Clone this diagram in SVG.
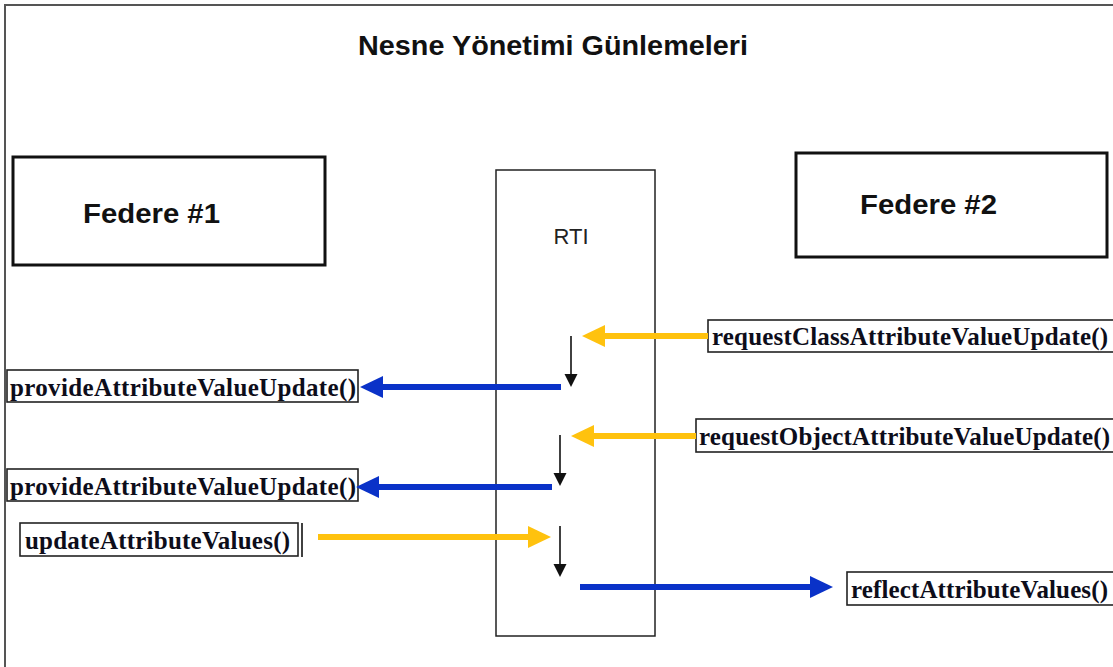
<svg xmlns="http://www.w3.org/2000/svg" width="1113" height="667" viewBox="0 0 1113 667">
  <style>
    .frame { fill: none; stroke: #555; stroke-width: 2; }
    .fed { fill: #fff; stroke: #111; stroke-width: 3; }
    .rti { fill: none; stroke: #222; stroke-width: 1.5; }
    .lbl { fill: #fff; stroke: #222; stroke-width: 1.6; }
    .big { font-family: "Liberation Sans", Arial, sans-serif; font-weight: bold; font-size: 28px; fill: #111; }
    .rtitxt { font-family: "Liberation Sans", Arial, sans-serif; font-size: 22px; fill: #222; }
    .call { font-family: "Liberation Serif", "Times New Roman", serif; font-weight: bold; font-size: 25px; fill: #0d0d1a; }
    .req { stroke: #ffc20e; stroke-width: 6; fill: none; marker-end: url(#headY); }
    .rsp { stroke: #0a32c8; stroke-width: 6; fill: none; marker-end: url(#headB); }
    .step { stroke: #111; stroke-width: 1.6; fill: none; marker-end: url(#headK); }
  </style>
  <defs>
    <marker id="headY" markerUnits="userSpaceOnUse" markerWidth="24" markerHeight="24" refX="0" refY="11" orient="auto">
      <path d="M0,0 L23,11 L0,22 z" fill="#ffc20e"/>
    </marker>
    <marker id="headB" markerUnits="userSpaceOnUse" markerWidth="24" markerHeight="24" refX="0" refY="11" orient="auto">
      <path d="M0,0 L23,11 L0,22 z" fill="#0a32c8"/>
    </marker>
    <marker id="headK" markerUnits="userSpaceOnUse" markerWidth="14" markerHeight="14" refX="0" refY="6.5" orient="auto">
      <path d="M0,0 L13,6.5 L0,13 z" fill="#111"/>
    </marker>
  </defs>

  <rect width="1113" height="667" fill="#fff"/>
  <!-- page frame -->
  <path class="frame" d="M5,667 L5,5 L1113,5"/>

  <text class="big" x="553" y="55" text-anchor="middle" textLength="390" lengthAdjust="spacingAndGlyphs">Nesne Yönetimi Günlemeleri</text>

  <g id="federe1">
    <rect class="fed" x="13" y="157" width="312" height="108"/>
    <text class="big" x="83" y="223" textLength="137" lengthAdjust="spacingAndGlyphs">Federe #1</text>
  </g>

  <g id="federe2">
    <rect class="fed" x="796" y="153" width="311" height="104"/>
    <text class="big" x="860" y="214" textLength="137" lengthAdjust="spacingAndGlyphs">Federe #2</text>
  </g>

  <g id="rti">
    <rect class="rti" x="496" y="170" width="159" height="466"/>
    <text class="rtitxt" x="571" y="244" text-anchor="middle">RTI</text>
  </g>

  <g id="requestClass">
    <rect class="lbl" x="708" y="320" width="410" height="32"/>
    <text class="call" x="712" y="345" textLength="396" lengthAdjust="spacing">requestClassAttributeValueUpdate()</text>
  </g>

  <g id="provide1">
    <rect class="lbl" x="7" y="370" width="351" height="32"/>
    <text class="call" x="10" y="396" textLength="346" lengthAdjust="spacing">provideAttributeValueUpdate()</text>
  </g>

  <g id="requestObject">
    <rect class="lbl" x="696" y="419" width="422" height="33"/>
    <text class="call" x="699" y="445" textLength="411" lengthAdjust="spacing">requestObjectAttributeValueUpdate()</text>
  </g>

  <g id="provide2">
    <rect class="lbl" x="7" y="469" width="351" height="32"/>
    <text class="call" x="10" y="495" textLength="346" lengthAdjust="spacing">provideAttributeValueUpdate()</text>
  </g>

  <g id="update">
    <rect class="lbl" x="20" y="523" width="278" height="33"/>
    <line x1="302" y1="523" x2="302" y2="557" stroke="#111" stroke-width="1.6"/>
    <text class="call" x="25" y="549" textLength="265" lengthAdjust="spacing">updateAttributeValues()</text>
  </g>

  <g id="reflect">
    <rect class="lbl" x="847" y="572" width="270" height="33"/>
    <text class="call" x="851" y="598" textLength="257" lengthAdjust="spacing">reflectAttributeValues()</text>
  </g>

  <g id="connectors">
    <!-- requests from Federe #2 into the RTI -->
    <line class="req" x1="708" y1="336" x2="605" y2="336"/>
    <line class="req" x1="696" y1="436" x2="594" y2="436"/>
    <!-- update from Federe #1 into the RTI -->
    <line class="req" x1="318" y1="537" x2="528" y2="537"/>
    <!-- RTI internal steps -->
    <line class="step" x1="571" y1="336" x2="571" y2="374"/>
    <line class="step" x1="560" y1="435" x2="560" y2="473"/>
    <line class="step" x1="560" y1="526" x2="560" y2="564"/>
    <!-- callbacks out of the RTI -->
    <line class="rsp" x1="561" y1="387" x2="383" y2="387"/>
    <line class="rsp" x1="552" y1="487" x2="379" y2="487"/>
    <line class="rsp" x1="580" y1="587" x2="810" y2="587"/>
  </g>
</svg>
